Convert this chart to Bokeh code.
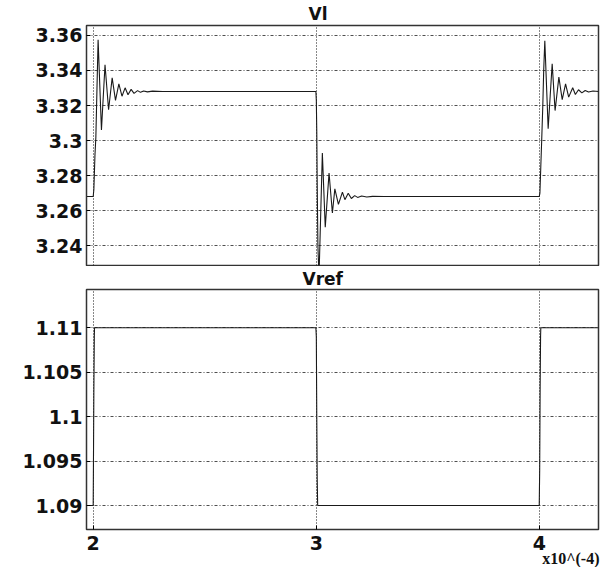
from bokeh.plotting import figure
from bokeh.layouts import column
from bokeh.models import FixedTicker, CustomJSTickFormatter, Range1d, Title
from bokeh.embed import file_html
from bokeh.resources import INLINE

# ---- data ----
x_ticks = [2, 3, 4]
vl_ticks = [3.24, 3.26, 3.28, 3.30, 3.32, 3.34, 3.36]
vref_ticks = [1.09, 1.095, 1.10, 1.105, 1.11]

vl_t = [1.970, 2.000, 2.003, 2.008, 2.012, 2.017, 2.022,
        2.037, 2.053, 2.069, 2.085, 2.100, 2.115, 2.129, 2.143, 2.156, 2.170, 2.183,
        2.199, 2.212, 2.226, 2.243, 2.266, 2.311,
        2.998, 3.000, 3.002, 3.004, 3.007, 3.012,
        3.027, 3.040, 3.057, 3.072, 3.083, 3.099, 3.117, 3.128, 3.143, 3.157,
        3.172, 3.185, 3.203, 3.226, 3.252, 3.302,
        3.999, 4.002, 4.006, 4.010, 4.015, 4.019, 4.024,
        4.039, 4.057, 4.070, 4.087, 4.102, 4.117, 4.131, 4.149, 4.161,
        4.175, 4.190, 4.205, 4.220, 4.240, 4.265]
vl_v = [3.268, 3.268, 3.272, 3.292, 3.302, 3.330, 3.3575,
        3.306, 3.3433, 3.3176, 3.3358, 3.3229, 3.3324, 3.3253, 3.3301, 3.3261, 3.3292, 3.3269,
        3.3285, 3.3275, 3.3283, 3.3278, 3.3282, 3.328,
        3.328, 3.323, 3.305, 3.275, 3.24, 3.222,
        3.2928, 3.2505, 3.2814, 3.2586, 3.2724, 3.2635, 3.2705, 3.2662, 3.2699, 3.2669,
        3.2685, 3.2675, 3.2683, 3.2677, 3.2681, 3.268,
        3.268, 3.270, 3.285, 3.300, 3.320, 3.340, 3.357,
        3.3067, 3.3438, 3.3171, 3.3362, 3.3233, 3.3324, 3.3248, 3.3301, 3.3263,
        3.3290, 3.3272, 3.3286, 3.3277, 3.3283, 3.328]

vref_t = [1.970, 2.000, 2.001, 2.003, 2.005, 2.006, 2.998, 3.000, 3.002, 3.004, 3.006,
          3.999, 4.001, 4.003, 4.005, 4.006, 4.265]
vref_v = [1.09, 1.09, 1.094, 1.103, 1.109, 1.11, 1.11, 1.109, 1.10, 1.093, 1.09,
          1.09, 1.094, 1.103, 1.109, 1.11, 1.11]

X_RANGE = (1.970, 4.2646)
fmt = CustomJSTickFormatter(code="return String(parseFloat(tick.toFixed(4)));")


def style(p, yticks, title_text, title_offset, title_standoff):
    p.toolbar_location = None
    p.background_fill_color = "white"
    p.border_fill_color = "white"
    p.outline_line_color = "#333333"
    p.outline_line_width = 1.5
    for ax in p.yaxis:
        ax.ticker = FixedTicker(ticks=yticks)
        ax.formatter = fmt
        ax.major_label_text_font = "DejaVu Sans"
        ax.major_label_text_font_style = "bold"
        ax.major_label_text_font_size = "19px"
        ax.major_label_text_color = "#111111"
        ax.major_tick_in = 4
        ax.major_tick_out = 0
        ax.minor_tick_line_color = None
        ax.axis_line_color = "#333333"
        ax.major_label_standoff = 4
    for ax in p.xaxis:
        ax.ticker = FixedTicker(ticks=x_ticks)
        ax.major_label_text_font = "DejaVu Sans"
        ax.major_label_text_font_style = "bold"
        ax.major_label_text_font_size = "19px"
        ax.major_label_text_color = "#111111"
        ax.major_tick_in = 4
        ax.major_tick_out = 0
        ax.minor_tick_line_color = None
        ax.axis_line_color = "#333333"
        ax.major_label_standoff = 6
    p.ygrid.ticker = FixedTicker(ticks=yticks)
    p.ygrid.grid_line_color = "#222222"
    p.ygrid.grid_line_dash = "3 2 1 2"
    p.ygrid.grid_line_width = 1
    p.ygrid.grid_line_alpha = 0.8
    p.xgrid.ticker = FixedTicker(ticks=x_ticks)
    p.xgrid.grid_line_color = "#111111"
    p.xgrid.grid_line_dash = "1 2"
    p.xgrid.grid_line_width = 1
    p.xgrid.grid_line_alpha = 1.0
    t = Title(text=title_text, align="left", offset=title_offset,
              text_font="DejaVu Sans", text_font_style="bold",
              text_font_size="17px", text_color="#111111", standoff=title_standoff)
    p.add_layout(t, "above")


p1 = figure(width=602, height=266, output_backend="svg", toolbar_location=None,
            x_range=Range1d(*X_RANGE), y_range=Range1d(3.2286, 3.3657),
            min_border_left=86, min_border_right=4, min_border_top=25,
            min_border_bottom=1)
p1.line(vl_t, vl_v, line_color="#1a1a1a", line_width=1.1)
style(p1, vl_ticks, "Vl", 222, 3)
p1.xaxis.visible = False

p2 = figure(width=602, height=301, output_backend="svg", toolbar_location=None,
            x_range=Range1d(*X_RANGE), y_range=Range1d(1.0873, 1.1143),
            min_border_left=86, min_border_right=4, min_border_top=21,
            min_border_bottom=38)
p2.line(vref_t, vref_v, line_color="#1a1a1a", line_width=1.1)
style(p2, vref_ticks, "Vref", 216, 1)
p2.add_layout(Title(text="x10^(-4)", align="right", offset=-1,
                    text_font="Liberation Serif", text_font_style="bold",
                    text_font_size="16px", text_color="#111111",
                    standoff=-9), "below")

layout = column(p1, p2, spacing=0)
open("out.html", "w").write(file_html(layout, INLINE))
